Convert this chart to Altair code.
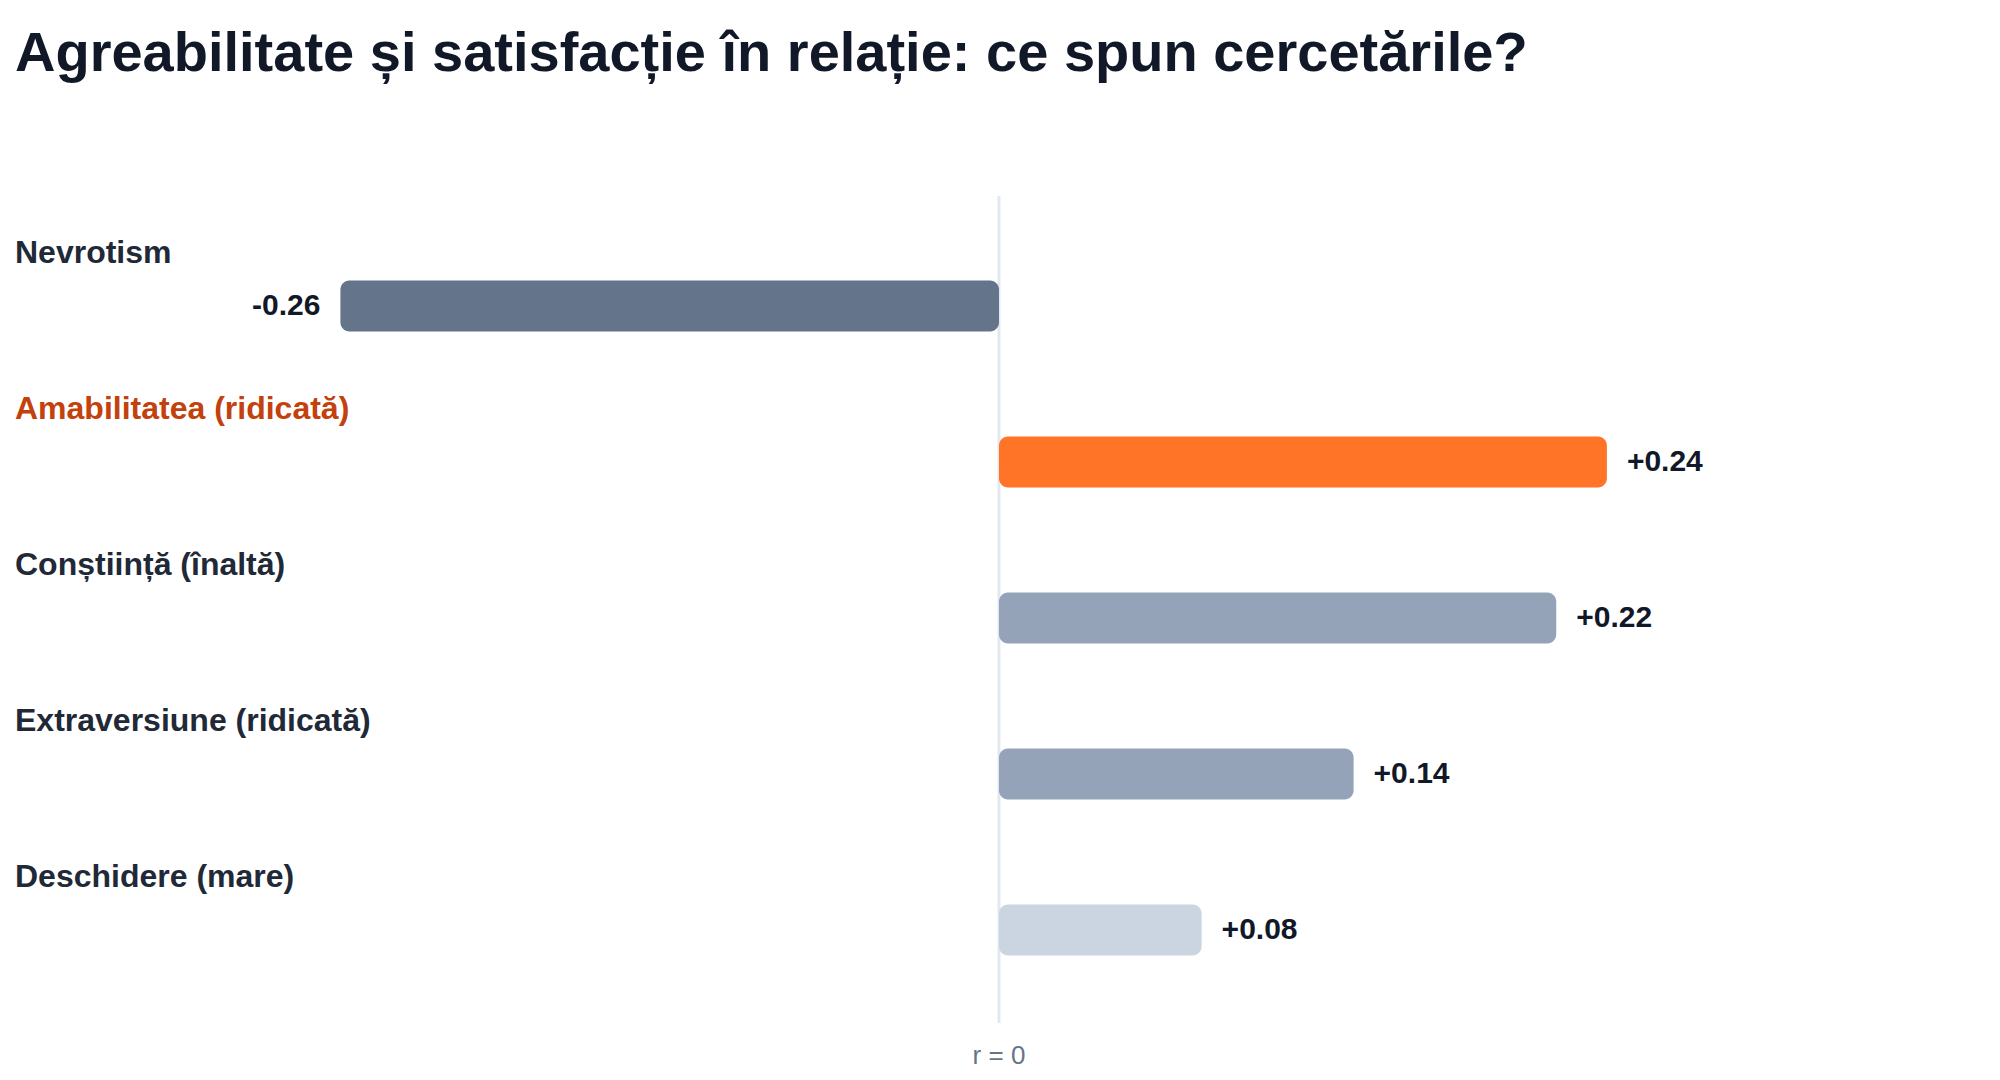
import altair as alt
import pandas as pd

categories = ["Nevrotism", "Amabilitatea (ridicată)", "Conștiință (înaltă)",
              "Extraversiune (ridicată)", "Deschidere (mare)"]
values = [-0.26, 0.24, 0.22, 0.14, 0.08]
value_labels = ["-0.26", "+0.24", "+0.22", "+0.14", "+0.08"]
bar_colors = ["#64748b", "#ff7427", "#94a3b8", "#94a3b8", "#cbd5e1"]
label_colors = ["#1f2937", "#c2410c", "#1f2937", "#1f2937", "#1f2937"]
title_text = "Agreabilitate și satisfacție în relație: ce spun cercetările?"
zero_label = "r = 0"

df = pd.DataFrame({
    "cat": categories,
    "r": values,
    "lbl": value_labels,
    "bar_color": bar_colors,
    "label_color": label_colors,
})

FONT = "Liberation Sans"
VFONT = "Liberation Sans"
x_scale = alt.Scale(domain=[-0.3944, 0.3952], nice=False, zero=False)
y_scale = alt.Scale(domain=categories, range=[138, 918], paddingInner=0, paddingOuter=0)

x_enc = alt.X("r:Q", scale=x_scale, axis=None)
y_enc = alt.Y("cat:N", scale=y_scale, axis=None, sort=categories)

base = alt.Chart(df)

bars = base.mark_bar(size=51, cornerRadius=9).encode(
    x=alt.X("zero:Q", scale=x_scale, axis=None),
    x2="r:Q",
    y=y_enc,
    color=alt.Color("bar_color:N", scale=None),
).transform_calculate(zero="0")

cat_labels = base.mark_text(align="left", baseline="middle", dy=-53,
                            font=FONT, fontSize=32, fontWeight="bold").encode(
    x=alt.value(15),
    y=y_enc,
    text="cat:N",
    color=alt.Color("label_color:N", scale=None),
)

val_pos = base.transform_filter("datum.r >= 0").mark_text(
    align="left", baseline="middle", dx=20, font=VFONT, fontSize=30,
    fontWeight="bold", color="#111827").encode(x=x_enc, y=y_enc, text="lbl:N")

val_neg = base.transform_filter("datum.r < 0").mark_text(
    align="right", baseline="middle", dx=-20, font=VFONT, fontSize=30,
    fontWeight="bold", color="#111827").encode(x=x_enc, y=y_enc, text="lbl:N")

zero_df = pd.DataFrame({"r": [0.0], "t": [zero_label]})
zero_rule = alt.Chart(zero_df).mark_rule(color="#e2e8f0", strokeWidth=3).encode(
    x=x_enc, y=alt.value(106), y2=alt.value(933))
zero_text = alt.Chart(zero_df).mark_text(
    align="center", baseline="middle", font=VFONT, fontSize=26,
    color="#64748b").encode(x=x_enc, y=alt.value(966), text="t:N")

chart = alt.layer(zero_rule, bars, cat_labels, val_pos, val_neg, zero_text).properties(
    width=2000, height=990,
    background="white",
    autosize=alt.AutoSizeParams(type="none"),
    padding={"left": 0, "top": 90, "right": 0, "bottom": 0},
    title=alt.TitleParams(title_text, anchor="start", font=FONT, fontSize=56,
                          fontWeight="bold", color="#111827", dx=15, offset=7),
).configure_view(stroke="transparent", strokeWidth=0)

chart.save("out.html", embed_options={"renderer": "svg", "actions": False})
